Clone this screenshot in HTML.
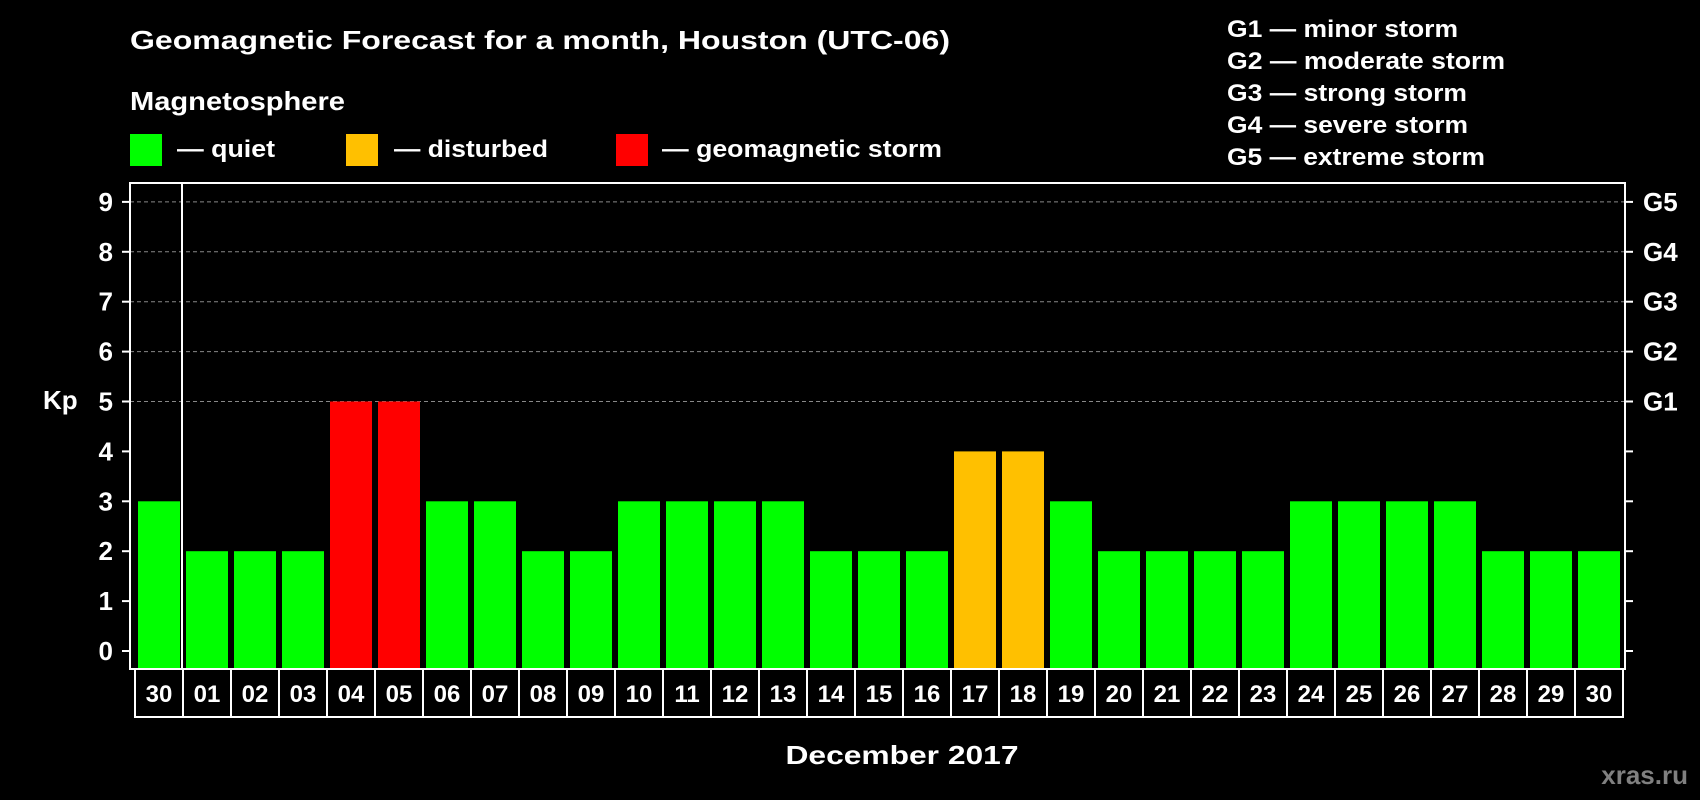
<!DOCTYPE html>
<html><head><meta charset="utf-8"><style>
html,body{margin:0;padding:0;background:#000;}
svg{display:block;font-family:"Liberation Sans",Arial,sans-serif;font-weight:bold;}
</style></head><body>
<svg id="chart" width="1700" height="800" viewBox="0 0 1700 800" xmlns="http://www.w3.org/2000/svg">
<rect width="1700" height="800" fill="#000"/>
<text x="130" y="49" font-size="26" fill="#fff" textLength="820" lengthAdjust="spacingAndGlyphs">Geomagnetic Forecast for a month, Houston (UTC-06)</text>
<text x="130" y="110" font-size="26" fill="#fff" textLength="215" lengthAdjust="spacingAndGlyphs">Magnetosphere</text>
<rect x="130" y="134" width="32" height="32" fill="#00ff00"/>
<text x="177" y="157" font-size="24" fill="#fff" textLength="98" lengthAdjust="spacingAndGlyphs">— quiet</text>
<rect x="346" y="134" width="32" height="32" fill="#ffc000"/>
<text x="394" y="157" font-size="24" fill="#fff" textLength="154" lengthAdjust="spacingAndGlyphs">— disturbed</text>
<rect x="616" y="134" width="32" height="32" fill="#ff0000"/>
<text x="662" y="157" font-size="24" fill="#fff" textLength="280" lengthAdjust="spacingAndGlyphs">— geomagnetic storm</text>
<g font-size="24" fill="#fff">
<text x="1227" y="37" textLength="231" lengthAdjust="spacingAndGlyphs">G1 — minor storm</text>
<text x="1227" y="69" textLength="278" lengthAdjust="spacingAndGlyphs">G2 — moderate storm</text>
<text x="1227" y="101" textLength="240" lengthAdjust="spacingAndGlyphs">G3 — strong storm</text>
<text x="1227" y="133" textLength="241" lengthAdjust="spacingAndGlyphs">G4 — severe storm</text>
<text x="1227" y="165" textLength="258" lengthAdjust="spacingAndGlyphs">G5 — extreme storm</text>
</g>
<g id="grid"></g>
<g id="bars"></g>
<g id="axes"></g>
<text x="43" y="409" font-size="26" fill="#fff">Kp</text>
<text x="902" y="764" font-size="26" fill="#fff" text-anchor="middle" textLength="233" lengthAdjust="spacingAndGlyphs">December 2017</text>
<text x="1688" y="784" font-size="26" fill="#808080" text-anchor="end">xras.ru</text>
</svg>
<script>
const days = ["30","01","02","03","04","05","06","07","08","09","10","11","12","13","14","15","16","17","18","19","20","21","22","23","24","25","26","27","28","29","30"];
const kpValues = [3,2,2,2,5,5,3,3,2,2,3,3,3,3,2,2,2,4,4,3,2,2,2,2,3,3,3,3,2,2,2];
const yTicks = [0,1,2,3,4,5,6,7,8,9];
const gLabels = ["","","","","","G1","G2","G3","G4","G5"];

const NS = "http://www.w3.org/2000/svg";
const plotL = 130, plotR = 1625, plotT = 183, plotB = 669;
const cellX0 = 135, cellW = 48;
const y = v => 651 - v * 49.9;
const x = i => cellX0 + i * cellW;
function mk(tag, attrs, parent) {
  const e = document.createElementNS(NS, tag);
  for (const k in attrs) e.setAttribute(k, attrs[k]);
  parent.appendChild(e);
  return e;
}
const grid = document.getElementById('grid');
const bars = document.getElementById('bars');
const axes = document.getElementById('axes');

yTicks.forEach((t, i) => {
  if (t >= 5) {
    const g = mk('line', {x1: plotL, x2: plotR, y1: y(t), y2: y(t), stroke: '#888', 'stroke-width': 1, 'stroke-dasharray': '4,3'}, grid);
    
    
  }
  const lt = mk('line', {x1: plotL - 8, x2: plotL, y1: y(t), y2: y(t), stroke: '#fff', 'stroke-width': 2}, axes);
  
  
  const rt = mk('line', {x1: plotR, x2: plotR + 8, y1: y(t), y2: y(t), stroke: '#fff', 'stroke-width': 2}, axes);
  
  
  const lb = mk('text', {x: 113, y: y(t) + 9, 'font-size': 26, fill: '#fff', 'text-anchor': 'end'}, axes);
  lb.textContent = String(t);
  
  
  if (gLabels[i]) {
    const gl = mk('text', {x: 1643, y: y(t) + 9, 'font-size': 26, fill: '#fff'}, axes);
    gl.textContent = gLabels[i];
    
    
  }
});

kpValues.forEach((v, i) => {
  const col = v >= 5 ? '#ff0000' : (v >= 4 ? '#ffc000' : '#00ff00');
  const r = mk('rect', {x: x(i) + 3, y: y(v), width: 42, height: (plotB - 1) - y(v), fill: col}, bars);
  
  
  const c = mk('rect', {x: x(i), y: plotB, width: cellW, height: 48, fill: 'none', stroke: '#fff', 'stroke-width': 2}, axes);
  
  
  const t = mk('text', {x: x(i) + cellW / 2, y: 702, 'font-size': 24, fill: '#fff', 'text-anchor': 'middle'}, axes);
  t.textContent = days[i];
  
  
});

const frame = mk('rect', {x: plotL, y: plotT, width: plotR - plotL, height: plotB - plotT, fill: 'none', stroke: '#fff', 'stroke-width': 2}, axes);


const sep = mk('line', {x1: x(1) - 1, x2: x(1) - 1, y1: plotT, y2: plotB, stroke: '#fff', 'stroke-width': 2}, axes);


</script>
</body></html>
